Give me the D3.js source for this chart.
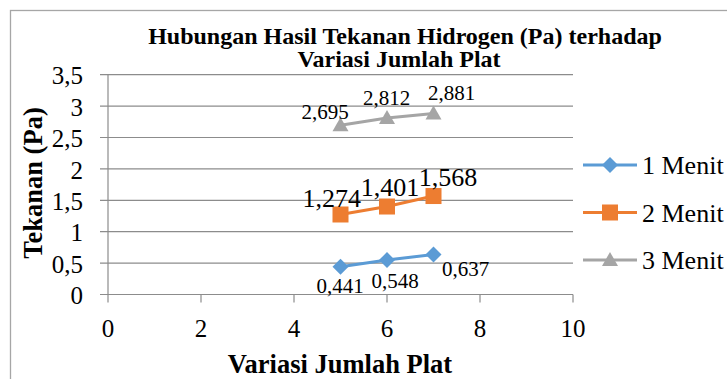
<!DOCTYPE html>
<html><head><meta charset="utf-8">
<script src="https://cdn.jsdelivr.net/npm/d3@7/dist/d3.min.js"></script>
<style>body{margin:0;background:#fff}svg{display:block}</style>
</head><body><svg id="c" width="727" height="379" font-family="Liberation Serif"></svg>
<script>
const xValues = [5, 6, 7];
const seriesNames = ["1 Menit", "2 Menit", "3 Menit"];
const menit1 = [0.441, 0.548, 0.637];
const menit2 = [1.274, 1.401, 1.568];
const menit3 = [2.695, 2.812, 2.881];
const labels1 = ["0,441", "0,548", "0,637"];
const labels2 = ["1,274", "1,401", "1,568"];
const labels3 = ["2,695", "2,812", "2,881"];
const xTicks = [0, 2, 4, 6, 8, 10];
const yTicks = [0, 0.5, 1, 1.5, 2, 2.5, 3, 3.5];
const yTickLabels = ["0", "0,5", "1", "1,5", "2", "2,5", "3", "3,5"];
const titleLines = ["Hubungan Hasil Tekanan Hidrogen (Pa) terhadap", "Variasi Jumlah Plat"];
const xTitle = "Variasi Jumlah Plat";
const yTitle = "Tekanan (Pa)";

const svg = d3.select("#c");
const x = d3.scaleLinear().domain([0, 10]).range([108, 573]);
const y = d3.scaleLinear().domain([0, 3.5]).range([294.5, 74.7]);
const gridColor = "#8c8c8c";

// outer border
svg.append("rect").attr("x", 10.5).attr("y", 10.5).attr("width", 730).attr("height", 380)
  .attr("fill", "none").attr("stroke", "#a6a6a6").attr("stroke-width", 1.3);

// gridlines
svg.append("g").selectAll("line").data(yTicks).join("line")
  .attr("x1", 100).attr("x2", 573).attr("y1", d => y(d)).attr("y2", d => y(d))
  .attr("stroke", gridColor).attr("stroke-width", 1.2);
svg.append("line").attr("x1", x(0)).attr("x2", x(0)).attr("y1", y(3.5)).attr("y2", y(0))
  .attr("stroke", gridColor).attr("stroke-width", 1.2);
svg.append("g").selectAll("line").data(xTicks).join("line")
  .attr("x1", d => x(d)).attr("x2", d => x(d)).attr("y1", y(0)).attr("y2", y(0) + 8)
  .attr("stroke", gridColor).attr("stroke-width", 1.2);

// tick labels
svg.append("g").selectAll("text").data(yTicks).join("text")
  .attr("x", 83).attr("y", d => y(d) + 1).attr("dy", "0.35em").attr("text-anchor", "end")
  .attr("font-size", 25).text((d, i) => yTickLabels[i]);
svg.append("g").selectAll("text").data(xTicks).join("text")
  .attr("x", d => x(d)).attr("y", 328).attr("dy", "0.35em").attr("text-anchor", "middle")
  .attr("font-size", 25).text(d => d);

// titles
svg.append("g").selectAll("text").data(titleLines).join("text")
  .attr("x", (d, i) => [405, 399][i]).attr("y", (d, i) => 36 + i * 23).attr("dy", "0.35em")
  .attr("text-anchor", "middle").attr("font-size", 24).attr("font-weight", "bold").text(d => d);
svg.append("text").attr("x", 340).attr("y", 373).attr("text-anchor", "middle")
  .attr("font-size", 26.5).attr("font-weight", "bold").text(xTitle);
svg.append("text").attr("transform", "translate(33,183) rotate(-90)").attr("dy", "0.35em")
  .attr("text-anchor", "middle").attr("font-size", 26.5).attr("font-weight", "bold").text(yTitle);

const colors = ["#5B9BD5", "#ED7D31", "#A5A5A5"];
const series = [menit1, menit2, menit3];
const line = d3.line().x((d, i) => x(xValues[i])).y(d => y(d));

function marker(g, type, color) {
  if (type === 0) g.append("path").attr("d", "M0,-8L8,0L0,8L-8,0Z").attr("fill", color);
  else if (type === 1) g.append("rect").attr("x", -8).attr("y", -8).attr("width", 16).attr("height", 16).attr("fill", color);
  else g.append("path").attr("d", "M0,-8L8,6L-8,6Z").attr("fill", color);
}

series.forEach((s, k) => {
  svg.append("path").datum(s).attr("d", line).attr("fill", "none")
    .attr("stroke", colors[k]).attr("stroke-width", 3);
  s.forEach((v, i) => {
    const g = svg.append("g").attr("transform", `translate(${x(xValues[i])},${y(v)})`);
    marker(g, k, colors[k]);
  });
});

// data labels
function addLabels(labels, vals, dxs, dys, size) {
  svg.append("g").selectAll("text").data(labels).join("text")
    .attr("x", (d, i) => x(xValues[i]) + dxs[i]).attr("y", (d, i) => y(vals[i]) + dys[i])
    .attr("dy", "0.35em").attr("text-anchor", "middle").attr("font-size", size).text(d => d);
}
addLabels(labels1, menit1, [-0.5, 8, 32], [18.4, 20.1, 13.7], 21);
addLabels(labels2, menit2, [-8.8, 3, 14.5], [-16.4, -19.7, -19.2], 26);
addLabels(labels3, menit3, [-15.5, -0.3, 18.2], [-13.5, -19.9, -20.5], 21);

// legend
const lg = svg.append("g").selectAll("g").data(seriesNames).join("g")
  .attr("transform", (d, i) => `translate(583,${165 + i * 47.5})`);
lg.append("line").attr("x1", 0).attr("x2", 54).attr("stroke", (d, i) => colors[i]).attr("stroke-width", 3);
lg.each(function(d, i) { const g = d3.select(this).append("g").attr("transform", "translate(27,0)"); marker(g, i, colors[i]); });
lg.append("text").attr("x", 59).attr("dy", "0.35em").attr("font-size", 26).text(d => d);
</script></body></html>
